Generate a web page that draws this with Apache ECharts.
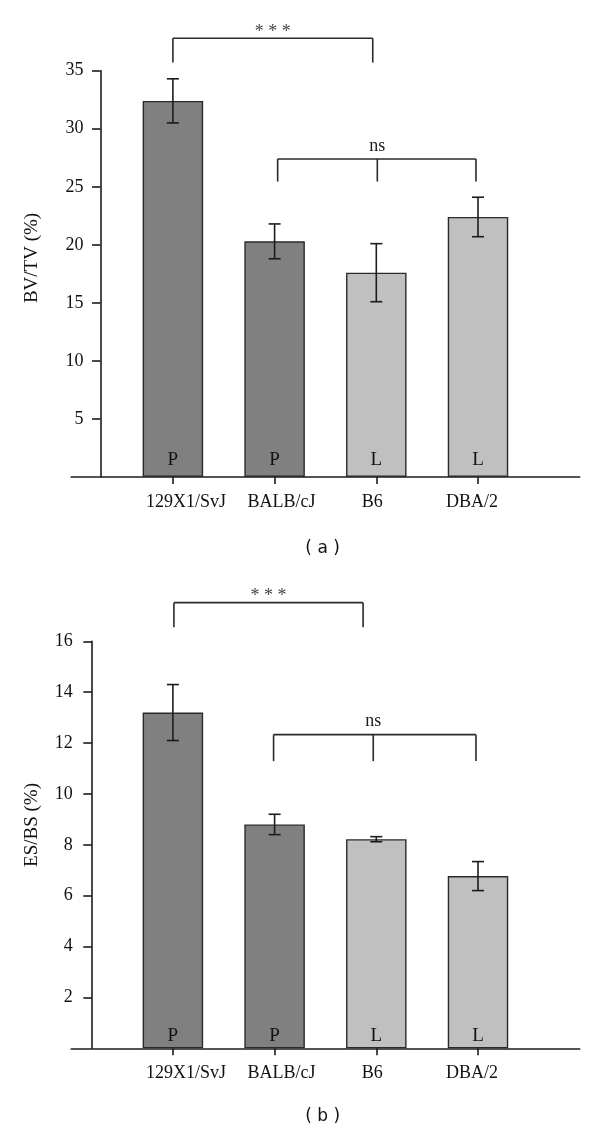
<!DOCTYPE html>
<html>
<head>
<meta charset="utf-8">
<script src="https://cdn.jsdelivr.net/npm/echarts@6/dist/echarts.min.js"></script>
<style>
html,body{margin:0;padding:0;background:#fff;}
#c{width:600px;height:1134px;}
</style>
</head>
<body>
<div id="c"></div>
<script>
// ---------- data ----------
const categories = ['129X1/SvJ', 'BALB/cJ', 'B6', 'DBA/2'];
const lineage = ['P', 'P', 'L', 'L'];
// panel (a): BV/TV (%)
const bvtvMean = [32.4, 20.3, 17.6, 22.4];
const bvtvErr = [1.9, 1.5, 2.5, 1.7];
const bvtvTicks = [0, 35, 5];
// panel (b): ES/BS (%)
const esbsMean = [13.2, 8.8, 8.22, 6.77];
const esbsErr = [1.1, 0.4, 0.1, 0.57];
const esbsTicks = [0, 16, 2];
// significance brackets: category positions (1-based), bar height, arm end, label
const bracketsA = [
  { xs: [1.0, 2.965], y: 37.8, arm: 35.7, mid: null, text: '* * *' },
  { xs: [2.03, 3.98], y: 27.4, arm: 25.45, mid: 3.01, text: 'ns' }
];
const bracketsB = [
  { xs: [1.01, 2.87], y: 17.52, arm: 16.55, mid: null, text: '* * *' },
  { xs: [1.99, 3.98], y: 12.33, arm: 11.29, mid: 2.97, text: 'ns' }
];

// ---------- styles ----------
const SERIF = 'Liberation Serif';
const INK = '#1c1c1c';
const DARK = '#808080';
const LIGHT = '#c0c0c0';
const labelShiftPx = [13, 7, -4, -6];   // visual nudge of category labels

const xCats = [{ value: '' }].concat(categories.map((c, i) => {
  const s = labelShiftPx[i];
  return { value: c, textStyle: { padding: s >= 0 ? [0, 0, 0, 2 * s] : [0, -2 * s, 0, 0] } };
}), [{ value: '' }]);

function barData(means) {
  return [{ value: '-' }].concat(means.map((v, i) => ({
    value: v,
    itemStyle: { color: lineage[i] === 'P' ? DARK : LIGHT }
  })), [{ value: '-' }]);
}

function errData(means, errs) {
  return means.map((v, i) => [i + 1, v - errs[i], v + errs[i]]);
}

function errorSeries(idx, means, errs) {
  return {
    type: 'custom', xAxisIndex: idx, yAxisIndex: idx, clip: false, z: 5,
    data: errData(means, errs),
    encode: { x: 0, y: [1, 2] },
    renderItem: function (params, api) {
      const x = api.value(0);
      const lo = api.coord([x, api.value(1)]);
      const hi = api.coord([x, api.value(2)]);
      const hw = 6;
      const st = { stroke: INK, lineWidth: 1.6 };
      return {
        type: 'group', children: [
          { type: 'line', shape: { x1: lo[0], y1: lo[1], x2: hi[0], y2: hi[1] }, style: st },
          { type: 'line', shape: { x1: hi[0] - hw, y1: hi[1], x2: hi[0] + hw, y2: hi[1] }, style: st },
          { type: 'line', shape: { x1: lo[0] - hw, y1: lo[1], x2: lo[0] + hw, y2: lo[1] }, style: st }
        ]
      };
    }
  };
}

function bracketSeries(idx, brackets) {
  return {
    type: 'custom', xAxisIndex: idx, yAxisIndex: idx, clip: false, z: 6,
    data: brackets.map(b => [1, b.y]),
    encode: { x: 0, y: 1 },
    renderItem: function (params, api) {
      const b = brackets[params.dataIndex];
      const px = function (xv, yv) {
        const f = Math.floor(xv);
        const p0 = api.coord([f, yv]);
        const p1 = api.coord([f + 1, yv]);
        return [p0[0] + (xv - f) * (p1[0] - p0[0]), p0[1]];
      };
      const a = px(b.xs[0], b.y), c = px(b.xs[1], b.y);
      const aArm = px(b.xs[0], b.arm), cArm = px(b.xs[1], b.arm);
      const st = { stroke: '#2a2a2a', lineWidth: 1.6 };
      const kids = [
        { type: 'line', shape: { x1: a[0], y1: a[1], x2: c[0], y2: c[1] }, style: st },
        { type: 'line', shape: { x1: a[0], y1: a[1], x2: aArm[0], y2: aArm[1] }, style: st },
        { type: 'line', shape: { x1: c[0], y1: c[1], x2: cArm[0], y2: cArm[1] }, style: st }
      ];
      let tx = (a[0] + c[0]) / 2;
      if (b.mid !== null) {
        const m = px(b.mid, b.y), mArm = px(b.mid, b.arm);
        kids.push({ type: 'line', shape: { x1: m[0], y1: m[1], x2: mArm[0], y2: mArm[1] }, style: st });
        tx = m[0];
      }
      const isStar = b.text.indexOf('*') >= 0;
      kids.push({
        type: 'text', x: tx, y: a[1] - (isStar ? 6 : 13),
        style: { text: b.text, font: '18px "' + SERIF + '"', fill: isStar ? '#444' : INK, align: 'center', verticalAlign: 'middle' }
      });
      return { type: 'group', children: kids };
    }
  };
}

function barSeries(idx, means, dist) {
  return {
    type: 'bar', xAxisIndex: idx, yAxisIndex: idx, barWidth: 60.5,
    data: barData(means),
    itemStyle: { borderColor: '#2a2a2a', borderWidth: 1.4 },
    label: {
      show: true, position: 'insideBottom', distance: dist,
      fontFamily: SERIF, fontSize: 19, color: '#111',
      formatter: p => lineage[p.dataIndex - 1] || ''
    }
  };
}

function xAxisCfg(idx) {
  return {
    gridIndex: idx, type: 'category', data: xCats, boundaryGap: false,
    axisLine: { lineStyle: { color: INK, width: 1.6 } },
    axisTick: { length: 7, lineStyle: { color: INK, width: 1.6 }, interval: (i) => i > 0 && i < xCats.length - 1 },
    axisLabel: { interval: 0, margin: 16, fontFamily: SERIF, fontSize: 18, color: '#111' },
    splitLine: { show: false }
  };
}

function yAxisCfg(idx, ticks, offset, margin) {
  return {
    gridIndex: idx, type: 'value', min: ticks[0], max: ticks[1], interval: ticks[2], offset: offset,
    axisLine: { show: true, lineStyle: { color: INK, width: 1.6 } },
    axisTick: { show: true, length: 8.5, lineStyle: { color: INK, width: 1.6 } },
    axisLabel: { showMinLabel: false, margin: margin, fontFamily: SERIF, fontSize: 18, color: '#111' },
    splitLine: { show: false }
  };
}

const chart = echarts.init(document.getElementById('c'), null, { renderer: 'canvas' });
chart.setOption({
  animation: false,
  backgroundColor: '#fff',
  grid: [
    { left: 71.2, width: 508.5, top: 70.7, height: 406.3 },
    { left: 71.2, width: 508.5, top: 641.3, height: 407 }
  ],
  xAxis: [xAxisCfg(0), xAxisCfg(1)],
  yAxis: [yAxisCfg(0, bvtvTicks, -29.3, 17), yAxisCfg(1, esbsTicks, -20.6, 19)],
  series: [
    barSeries(0, bvtvMean, 7), errorSeries(0, bvtvMean, bvtvErr), bracketSeries(0, bracketsA),
    barSeries(1, esbsMean, 3), errorSeries(1, esbsMean, esbsErr), bracketSeries(1, bracketsB)
  ],
  graphic: [
    { type: 'text', x: 32, y: 258, rotation: Math.PI / 2,
      style: { text: 'BV/TV (%)', font: '19px "' + SERIF + '"', fill: '#111', align: 'center', verticalAlign: 'middle' } },
    { type: 'text', x: 32, y: 825, rotation: Math.PI / 2,
      style: { text: 'ES/BS (%)', font: '19px "' + SERIF + '"', fill: '#111', align: 'center', verticalAlign: 'middle' } },
    { type: 'text', x: 322.6, y: 549,
      style: { text: '( a )', font: '17px "DejaVu Sans"', fill: '#111', align: 'center', verticalAlign: 'middle' } },
    { type: 'text', x: 322.6, y: 1117,
      style: { text: '( b )', font: '17px "DejaVu Sans"', fill: '#111', align: 'center', verticalAlign: 'middle' } }
  ]
});
</script>
</body>
</html>
